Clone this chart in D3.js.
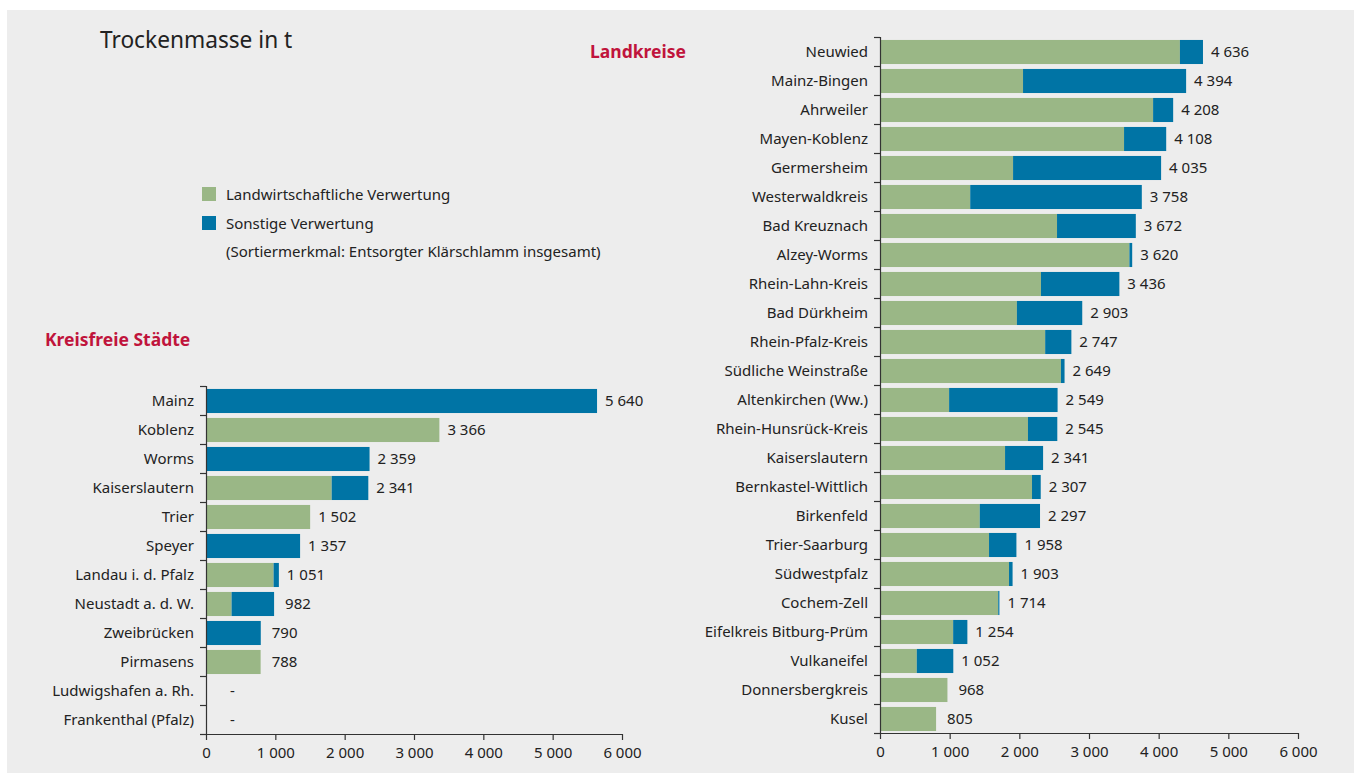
<!DOCTYPE html>
<html>
<head>
<meta charset="utf-8">
<script src="https://cdn.jsdelivr.net/npm/d3@7"></script>
<style>
  html, body { margin: 0; padding: 0; background: #ffffff; }
  svg { display: block; }
  text { font-family: "Noto Sans", "Open Sans", sans-serif; fill: #222222; }
</style>
</head>
<body>
<svg id="chart" width="1354" height="773"></svg>
<script>
// ---------- DATA ----------
const cityNames = ["Mainz", "Koblenz", "Worms", "Kaiserslautern", "Trier", "Speyer",
  "Landau i. d. Pfalz", "Neustadt a. d. W.", "Zweibrücken", "Pirmasens",
  "Ludwigshafen a. Rh.", "Frankenthal (Pfalz)"];
const cityAgri  = [0, 3366, 0, 1813, 1502, 0, 975, 369, 0, 788, 0, 0];
const cityTotal = [5640, 3366, 2359, 2341, 1502, 1357, 1051, 982, 790, 788, null, null];

const districtNames = ["Neuwied", "Mainz-Bingen", "Ahrweiler", "Mayen-Koblenz", "Germersheim",
  "Westerwaldkreis", "Bad Kreuznach", "Alzey-Worms", "Rhein-Lahn-Kreis", "Bad Dürkheim",
  "Rhein-Pfalz-Kreis", "Südliche Weinstraße", "Altenkirchen (Ww.)", "Rhein-Hunsrück-Kreis",
  "Kaiserslautern", "Bernkastel-Wittlich", "Birkenfeld", "Trier-Saarburg", "Südwestpfalz",
  "Cochem-Zell", "Eifelkreis Bitburg-Prüm", "Vulkaneifel", "Donnersbergkreis", "Kusel"];
const districtAgri  = [4305, 2053, 3920, 3503, 1910, 1295, 2541, 3580, 2311, 1965,
  2371, 2597, 992, 2124, 1795, 2182, 1432, 1565, 1852, 1697, 1050, 528, 968, 805];
const districtTotal = [4636, 4394, 4208, 4108, 4035, 3758, 3672, 3620, 3436, 2903,
  2747, 2649, 2549, 2545, 2341, 2307, 2297, 1958, 1903, 1714, 1254, 1052, 968, 805];

const xTicks = [0, 1000, 2000, 3000, 4000, 5000, 6000];
const seriesNames = ["Landwirtschaftliche Verwertung", "Sonstige Verwertung"];
const noteText = "(Sortiermerkmal: Entsorgter Klärschlamm insgesamt)";
const titleText = "Trockenmasse in t";
const leftTitle = "Kreisfreie Städte";
const rightTitle = "Landkreise";

// ---------- STYLE ----------
const GREEN = "#9ab786";
const BLUE = "#0074a5";
const RED = "#c0143c";
const AXIS = "#333333";
const FS = 15;

const de = d3.formatLocale({decimal: ",", thousands: "\u00a0", grouping: [3], currency: ["", " €"]});
const fmt = de.format(",d");

const svg = d3.select("#chart");
svg.append("rect").attr("x", 7).attr("y", 10).attr("width", 1354 - 7).attr("height", 773 - 10)
  .attr("fill", "#ededed");

svg.append("text").attr("x", 100).attr("y", 48).attr("font-size", 22.7).text(titleText);

function panel(names, agri, total, cfg) {
  const g = svg.append("g");
  const x = d3.scaleLinear().domain([0, 6000]).range([cfg.x0, cfg.x1]);
  const y = d3.scaleBand().domain(names).range([cfg.y0, cfg.y1])
    .paddingInner(0.17).paddingOuter(0.085).align(0.6);
  const step = y.step();

  const rows = names.map((n, i) => ({name: n, agri: agri[i], total: total[i]}));

  // bars: agricultural part
  g.selectAll("rect.agri").data(rows).join("rect").attr("class", "agri")
    .attr("x", x(0)).attr("y", d => y(d.name))
    .attr("width", d => x(d.agri) - x(0)).attr("height", y.bandwidth())
    .attr("fill", GREEN);
  // bars: other part
  g.selectAll("rect.other").data(rows).join("rect").attr("class", "other")
    .attr("x", d => x(d.agri)).attr("y", d => y(d.name))
    .attr("width", d => d.total == null ? 0 : Math.max(0, x(d.total) - x(d.agri)))
    .attr("height", y.bandwidth())
    .attr("fill", BLUE);

  // value labels
  g.selectAll("text.val").data(rows).join("text").attr("class", "val")
    .attr("x", d => d.total == null ? x(0) + 24 : x(d.total) + (d.total < 1000 ? 11 : 8))
    .attr("y", d => y(d.name) + y.bandwidth() / 2)
    .attr("dy", "0.35em").attr("font-size", FS)
    .text(d => d.total == null ? "-" : fmt(d.total));

  // category labels
  g.selectAll("text.cat").data(rows).join("text").attr("class", "cat")
    .attr("x", x(0) - 12).attr("y", d => y(d.name) + y.bandwidth() / 2)
    .attr("dy", "0.35em").attr("text-anchor", "end").attr("font-size", FS)
    .text(d => d.name);

  // y axis line and boundary ticks
  g.append("line").attr("x1", x(0) + 0.5).attr("x2", x(0) + 0.5)
    .attr("y1", cfg.y0).attr("y2", cfg.y1).attr("stroke", AXIS).attr("stroke-width", 1.2);
  const bounds = d3.range(names.length + 1).map(i => cfg.y0 + i * step);
  g.selectAll("line.yt").data(bounds).join("line").attr("class", "yt")
    .attr("x1", x(0) - 6).attr("x2", x(0)).attr("y1", d => Math.round(d) + 0.5).attr("y2", d => Math.round(d) + 0.5)
    .attr("stroke", AXIS).attr("stroke-width", 1.2);

  // x axis
  const ax = g.append("g").attr("transform", `translate(0,${cfg.y1})`)
    .call(d3.axisBottom(x).tickValues(xTicks).tickSize(6).tickSizeOuter(0).tickFormat(fmt));
  ax.select(".domain").attr("stroke", AXIS).attr("stroke-width", 1.2);
  ax.selectAll(".tick line").attr("stroke", AXIS).attr("stroke-width", 1.2);
  ax.selectAll(".tick text").attr("font-size", FS).attr("font-family", "Noto Sans, sans-serif")
    .attr("fill", "#222").attr("y", 13);
  return {x, y};
}

panel(cityNames, cityAgri, cityTotal, {x0: 206, x1: 622, y0: 386, y1: 734});
panel(districtNames, districtAgri, districtTotal, {x0: 880, x1: 1298, y0: 37, y1: 733});

svg.append("text").attr("x", 45).attr("y", 346).attr("font-size", 17.5).attr("font-weight", "bold")
  .style("fill", RED).text(leftTitle);
svg.append("text").attr("x", 590).attr("y", 58).attr("font-size", 17.5).attr("font-weight", "bold")
  .style("fill", RED).text(rightTitle);

// legend
const legend = svg.append("g");
[GREEN, BLUE].forEach((c, i) => {
  legend.append("rect").attr("x", 202).attr("y", 187 + i * 29).attr("width", 14).attr("height", 14).attr("fill", c);
  legend.append("text").attr("x", 226).attr("y", 194.5 + i * 29).attr("dy", "0.35em").attr("font-size", FS)
    .text(seriesNames[i]);
});
legend.append("text").attr("x", 226).attr("y", 252).attr("dy", "0.35em").attr("font-size", FS).text(noteText);
</script>
</body>
</html>
